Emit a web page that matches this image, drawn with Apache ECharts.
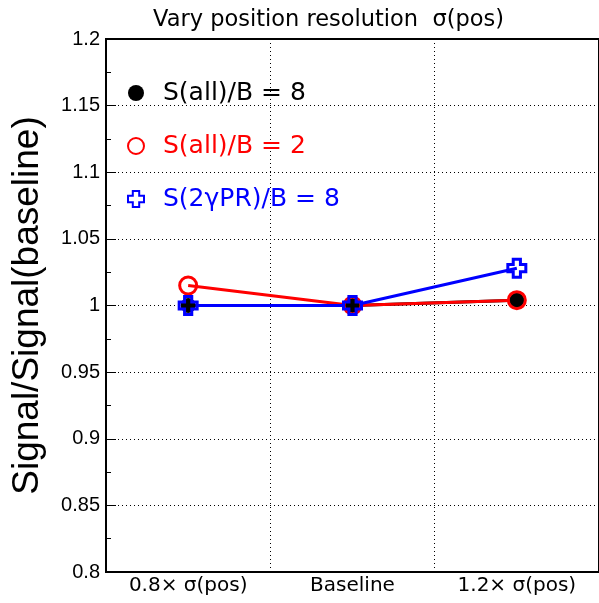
<!DOCTYPE html>
<html><head><meta charset="utf-8">
<script src="https://cdn.jsdelivr.net/npm/echarts@6/dist/echarts.min.js"></script>
<style>html,body{margin:0;padding:0;background:#fff}#c{width:599px;height:603px}</style>
</head><body><div id="c"></div>
<script>
const categories = ['0.8\u00D7 \u03C3(pos)', 'Baseline', '1.2\u00D7 \u03C3(pos)'];
const sAll8 = [1.0, 1.0, 1.004];
const sAll2 = [1.015, 1.0, 1.004];
const s2g8 = [1.0, 1.0, 1.028];
const seriesNames = ['S(all)/B = 8', 'S(all)/B = 2', 'S(2\u03B3PR)/B = 8'];
const yTicks = { min: 0.8, max: 1.2, step: 0.05 };
const titleText = 'Vary position resolution  \u03C3(pos)';
const yName = 'Signal/Signal(baseline)';

const crossPath = 'path://M3,0 H7 V3 H10 V7 H7 V10 H3 V7 H0 V3 H3 Z';
const chart = echarts.init(document.getElementById('c'), null, {renderer: 'canvas'});
chart.setOption({
  animation: false,
  backgroundColor: '#fff',
  title: {
    text: titleText, left: 148, top: 4,
    textStyle: {fontFamily: 'DejaVu Sans', fontSize: 22.5, fontWeight: 'normal', color: '#000'}
  },
  grid: {left: 106, top: 39, width: 498, height: 533, show: true, borderColor: '#000', borderWidth: 2, backgroundColor: 'transparent'},
  legend: {
    orient: 'vertical', left: 122, top: 75, itemWidth: 16, itemHeight: 16, itemGap: 27,
    textStyle: {fontFamily: 'DejaVu Sans', fontSize: 25, lineHeight: 26, padding: [0, 0, 0, 14]},
    data: [
      {name: seriesNames[0], icon: 'circle', textStyle: {color: '#000'}},
      {name: seriesNames[1], icon: 'circle', textStyle: {color: '#ff0000'}},
      {name: seriesNames[2], icon: crossPath, textStyle: {color: '#0000ff'}}
    ]
  },
  xAxis: {
    type: 'category', data: categories, boundaryGap: true,
    axisLine: {lineStyle: {color: '#000', width: 2}},
    axisTick: {show: false},
    axisLabel: {fontFamily: 'DejaVu Sans', fontSize: 20, color: '#000', margin: 4},
    splitLine: {show: true, lineStyle: {type: [1, 3], color: '#000', width: 1}}
  },
  yAxis: {
    type: 'value', min: yTicks.min, max: yTicks.max, interval: yTicks.step,
    name: yName, nameLocation: 'middle', nameGap: 60, nameRotate: 90,
    nameTextStyle: {fontFamily: 'Liberation Sans', fontSize: 37, color: '#000'},
    axisLine: {show: true, lineStyle: {color: '#000', width: 2}},
    axisTick: {show: true, inside: true, length: 10, lineStyle: {color: '#000', width: 1}},
    minorTick: {show: true, splitNumber: 2, length: 5, lineStyle: {color: '#000', width: 1}},
    axisLabel: {fontFamily: 'Liberation Sans', fontSize: 20, color: '#000', margin: 6,
      formatter: v => String(+v.toFixed(2))},
    splitLine: {show: true, lineStyle: {type: [1, 3], color: '#000', width: 1}}
  },
  series: [
    {name: seriesNames[0], type: 'line', data: sAll8, symbol: 'circle', symbolSize: 15,
     color: '#000', lineStyle: {color: '#000', width: 3}, itemStyle: {color: '#000'}},
    {name: seriesNames[1], type: 'line', data: sAll2, symbol: 'circle', symbolSize: 17,
     color: '#ff0000', lineStyle: {color: '#ff0000', width: 3},
     itemStyle: {color: 'rgba(0,0,0,0)', borderColor: '#ff0000', borderWidth: 3}},
    {name: seriesNames[2], type: 'line', data: s2g8, symbol: crossPath, symbolSize: 18,
     color: '#0000ff', lineStyle: {color: '#0000ff', width: 3},
     itemStyle: {color: 'rgba(0,0,0,0)', borderColor: '#0000ff', borderWidth: 3}}
  ]
});
</script></body></html>
